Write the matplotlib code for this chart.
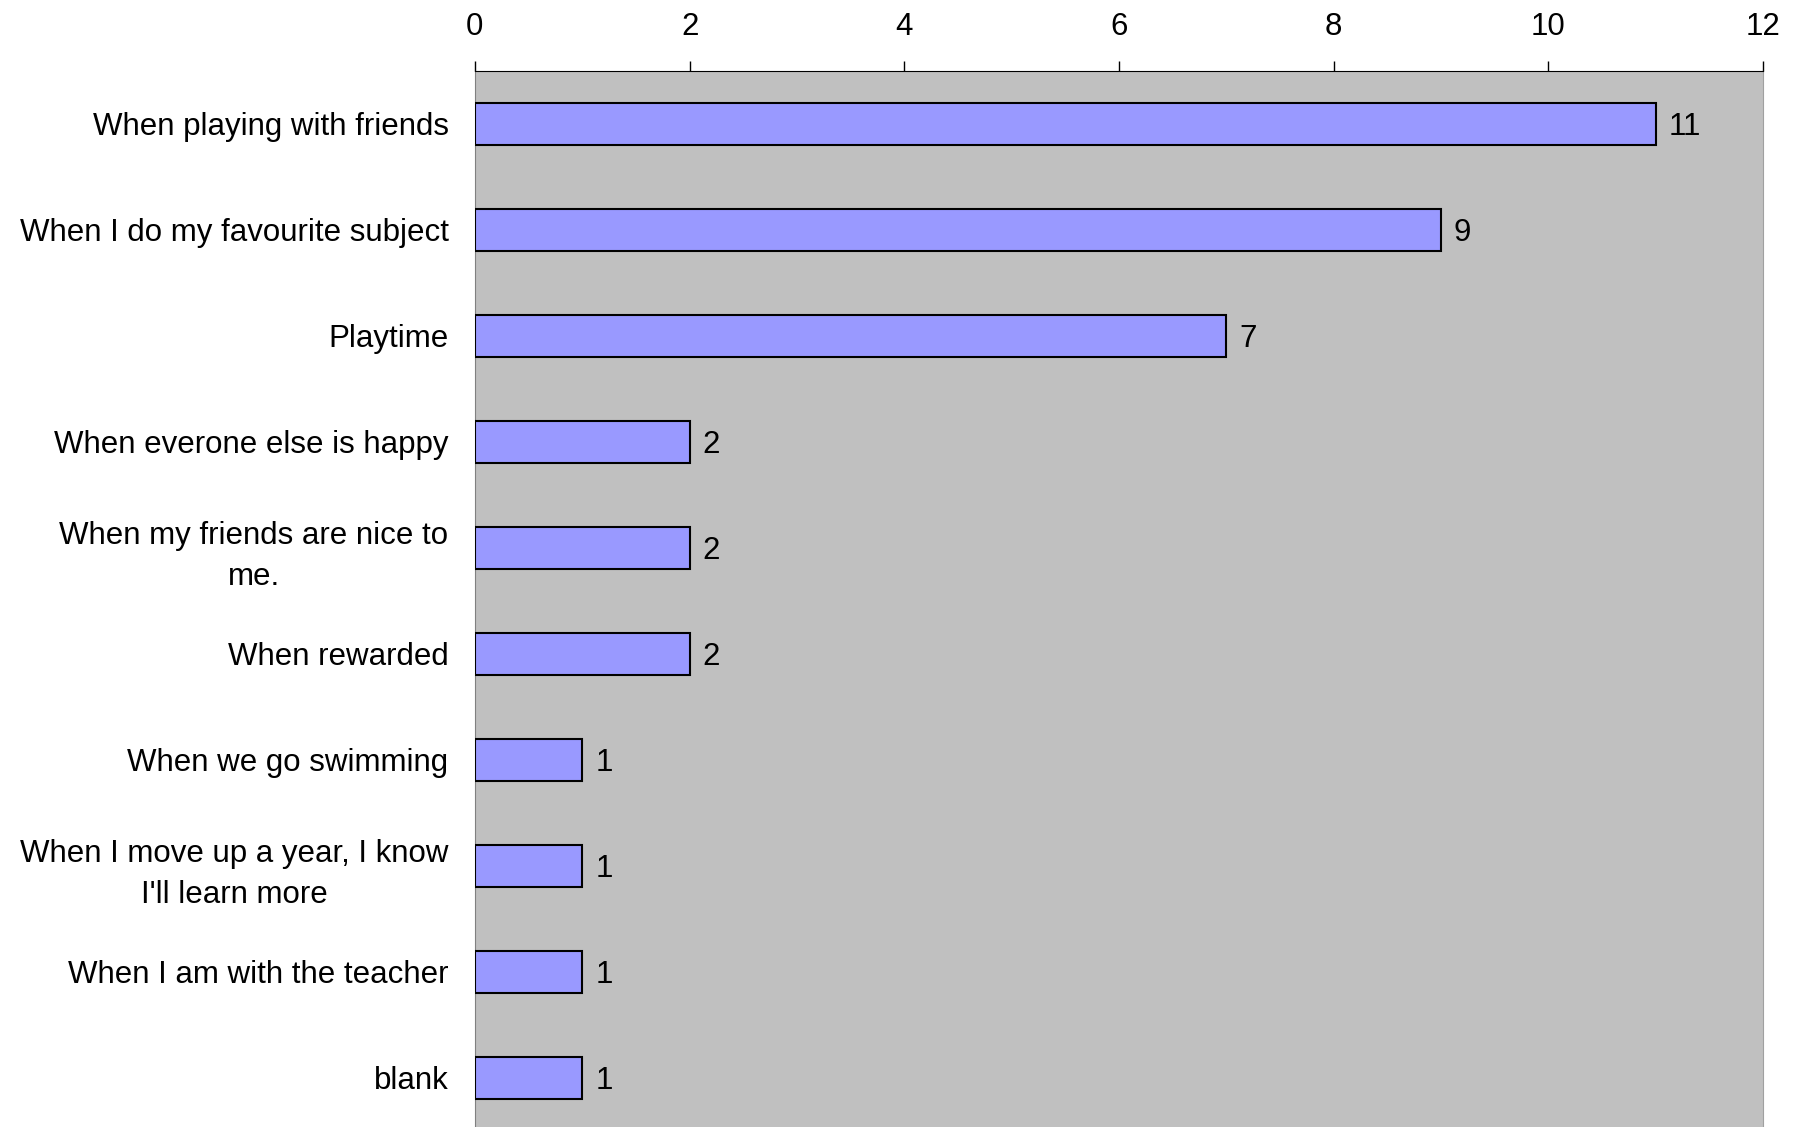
import matplotlib
matplotlib.use("Agg")
import matplotlib.pyplot as plt

plt.rcParams['font.family'] = ['Liberation Sans', 'DejaVu Sans']

# survey answers, top to bottom
labels = [
    "When playing with friends",
    "When I do my favourite subject",
    "Playtime",
    "When everone else is happy",
    "When my friends are nice to\nme.",
    "When rewarded",
    "When we go swimming",
    "When I move up a year, I know\nI'll learn more",
    "When I am with the teacher",
    "blank",
]
counts = [11, 9, 7, 2, 2, 2, 1, 1, 1, 1]
xticks = [0, 2, 4, 6, 8, 10, 12]

fs = 22.5

fig = plt.figure(figsize=(18.01, 11.27), dpi=100)
ax = fig.add_axes([0.2637, -0.0035, 0.979 - 0.2637, 0.9405])
ax.set_facecolor('#C0C0C0')

pos = list(range(len(labels)))
ax.barh(pos, counts, height=0.39, color='#9999FF', edgecolor='black', linewidth=1.5, zorder=3)

for p, c in zip(pos, counts):
    ax.text(c + 0.12, p, str(c), va='center_baseline', ha='left', fontsize=fs)

ax.set_xlim(0, 12)
ax.set_ylim(len(labels) - 0.5, -0.5)
ax.set_xticks(xticks)
ax.set_xticklabels([str(t) for t in xticks])
ax.xaxis.tick_top()
ax.tick_params(axis='x', direction='out', length=7, width=1, pad=14, labelsize=fs)
ax.set_yticks(pos)
ax.set_yticklabels(labels, fontsize=fs, multialignment='center', linespacing=1.45)
ax.tick_params(axis='y', length=0, pad=19)

ax.spines['top'].set_color('black')
ax.spines['left'].set_color('#808080')
ax.spines['right'].set_color('#A0A0A0')
ax.spines['bottom'].set_visible(False)

fig.savefig('out.png', dpi=100)
